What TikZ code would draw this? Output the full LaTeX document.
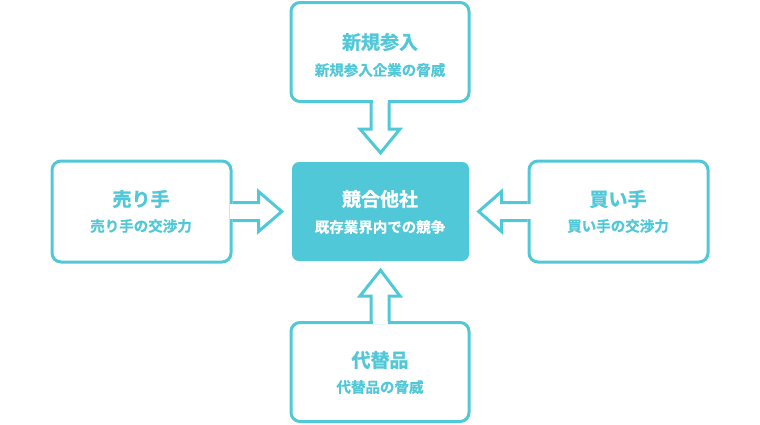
\documentclass[tikz,border=0pt]{standalone}
\usepackage{fontspec}
\usetikzlibrary{calc}
\newfontfamily\jpfont{Noto Sans CJK JP Bold}[FakeBold=1.2]
\newfontfamily\jpsub{Noto Sans CJK JP Bold}[FakeBold=0.6]
\definecolor{tealc}{RGB}{80,200,215}
\begin{document}
\begin{tikzpicture}[x=1pt,y=-1pt,
  box/.style={draw=tealc, line width=3pt, rounded corners=9pt, fill=white,
    minimum width=#1, minimum height=99pt, inner sep=0pt, align=center},
  box/.default=178pt,
  core/.style={fill=tealc, rounded corners=7pt, minimum width=177pt,
    minimum height=99pt, inner sep=0pt, align=center, text=white},
  arr/.style={draw=tealc, line width=3pt, line join=miter},
  ttl/.style={font=\jpfont\fontsize{19}{22}\selectfont},
  sub/.style={font=\jpsub\fontsize{14.5}{17}\selectfont}
]
\useasboundingbox (0,0) rectangle (760,424);
% boxes
\node[box] (top) at (380,52) {};
\node[box] (bot) at (380,372) {};
\node[box=179pt, minimum height=101pt] (lft) at (141.5,211.5) {};
\node[box=179pt, minimum height=101pt] (rgt) at (618.5,211.5) {};
\node[core] (mid) at (380.5,211.5) {};
% texts
\node[ttl, text=tealc] (topT) at (380,42) {新規参入};
\node[sub, text=tealc] (topS) at (380,70) {新規参入企業の脅威};
\node[ttl, text=tealc] (botT) at (380,360) {代替品};
\node[sub, text=tealc] (botS) at (380,387) {代替品の脅威};
\node[ttl, text=tealc] (lftT) at (141,199) {売り手};
\node[sub, text=tealc] (lftS) at (141,226) {売り手の交渉力};
\node[ttl, text=tealc] (rgtT) at (618,199) {買い手};
\node[sub, text=tealc] (rgtS) at (618,226) {買い手の交渉力};
\node[ttl, text=white] (midT) at (380,199) {競合他社};
\node[sub, text=white] (midS) at (380,227) {既存業界内での競争};
% arrow: top -> mid
\coordinate (tA) at (top.south);
\coordinate (tTip) at ($(mid.north)+(0,-9)$);
\fill[white] ($(tA)+(-7.5,-3)$) rectangle ($(tA)+(7.5,3)$);
\draw[arr] ($(tA)+(-9,0)$) -- ($(tA)+(-9,26)$) -- ($(tA)+(-20,26)$) -- (tTip)
  -- ($(tA)+(20,26)$) -- ($(tA)+(9,26)$) -- ($(tA)+(9,0)$);
% arrow: bot -> mid
\coordinate (bA) at (bot.north);
\coordinate (bTip) at ($(mid.south)+(0,9)$);
\fill[white] ($(bA)+(-7.5,-3)$) rectangle ($(bA)+(7.5,3)$);
\draw[arr] ($(bA)+(-9,0)$) -- ($(bA)+(-9,-25)$) -- ($(bA)+(-20,-25)$) -- (bTip)
  -- ($(bA)+(20,-25)$) -- ($(bA)+(9,-25)$) -- ($(bA)+(9,0)$);
% arrow: lft -> mid
\coordinate (lA) at (lft.east);
\coordinate (lTip) at ($(mid.west)+(-10,0)$);
\fill[white] ($(lA)+(-3,-7.5)$) rectangle ($(lA)+(3,7.5)$);
\draw[arr] ($(lA)+(0,-9)$) -- ($(lA)+(26,-9)$) -- ($(lA)+(26,-20)$) -- (lTip)
  -- ($(lA)+(26,20)$) -- ($(lA)+(26,9)$) -- ($(lA)+(0,9)$);
% arrow: rgt -> mid
\coordinate (rA) at (rgt.west);
\coordinate (rTip) at ($(mid.east)+(9.5,0)$);
\fill[white] ($(rA)+(-3,-7.5)$) rectangle ($(rA)+(3,7.5)$);
\draw[arr] ($(rA)+(0,-9)$) -- ($(rA)+(-26,-9)$) -- ($(rA)+(-26,-20)$) -- (rTip)
  -- ($(rA)+(-26,20)$) -- ($(rA)+(-26,9)$) -- ($(rA)+(0,9)$);
\end{tikzpicture}
\end{document}
